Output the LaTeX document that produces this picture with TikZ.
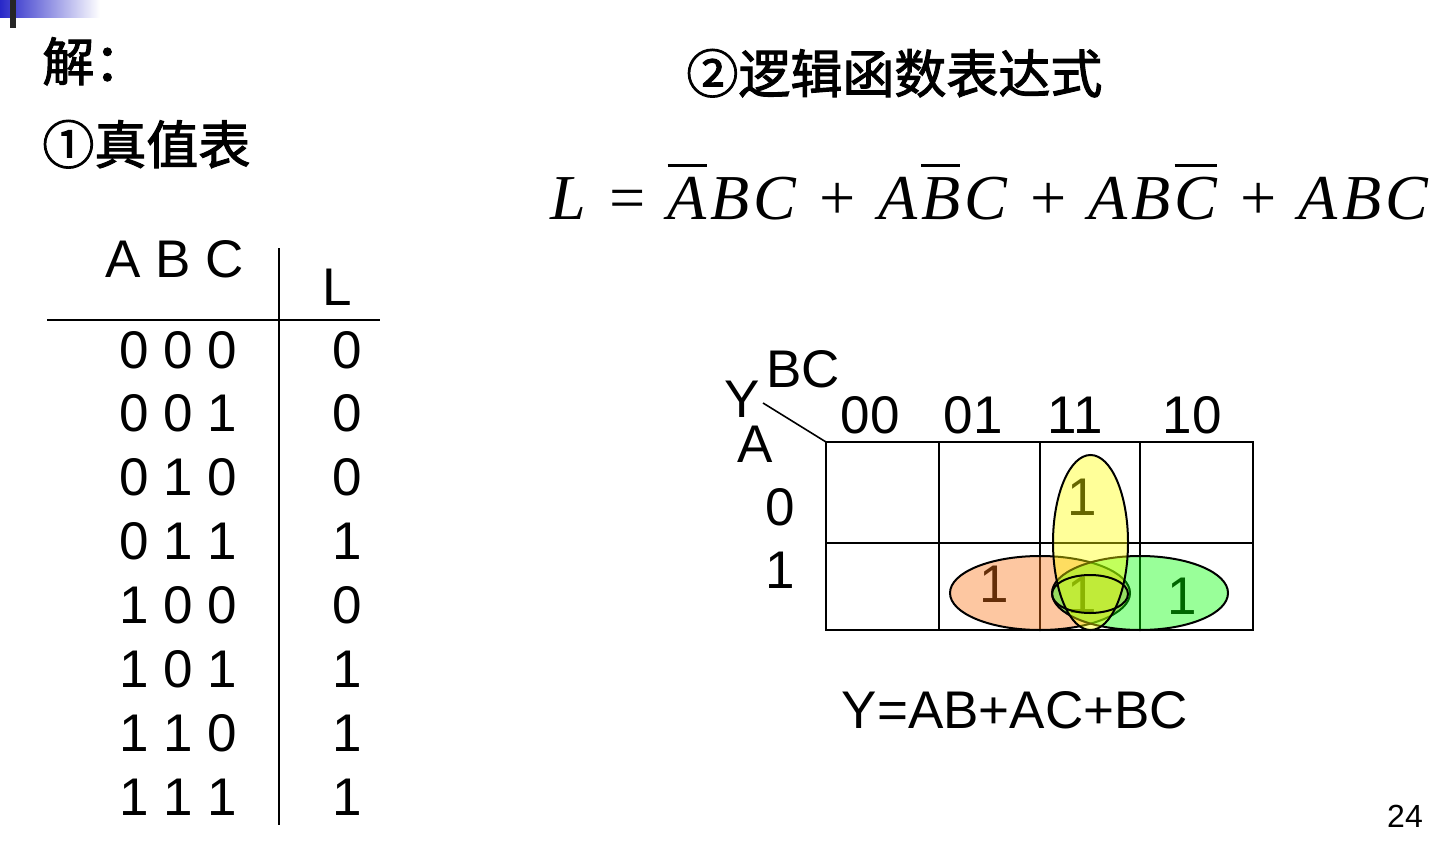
\documentclass[tikz,border=0pt]{standalone}
\usepackage{fontspec}
\setmainfont{Liberation Sans}
\newfontfamily\cjk[BoldFont={Noto Sans CJK SC}, BoldFeatures={FakeBold=2}]{Noto Sans CJK SC}
\newfontfamily\tms{Liberation Serif}
\usetikzlibrary{positioning,calc}
% overline over one letter
\newcommand{\ovl}[1]{\leavevmode\setbox0\hbox{#1}\rlap{\rule[0.83em]{\wd0}{1.5pt}}\box0}
% gap between letters and around signs
\newcommand{\letgap}{\hspace{2pt}}
\newcommand{\opgap}{\hspace{0.3em}}
\tikzset{
  %Define style for plain text
  sans/.style={inner sep=0pt, anchor=base, font=\fontsize{26.5}{30}\selectfont},
  %Define style for chinese titles
  hanzi/.style={inner sep=0pt, anchor=base west, font=\cjk\bfseries\fontsize{26}{30}\selectfont},
  % Define style for the loops
  quan/.style={draw=black, line width=1pt, fill opacity=0.4},
  % Define line style
  kline/.style={line width=1pt}
}
\begin{document}
\begin{tikzpicture}[x=0.5pt,y=-0.5pt]
  \useasboundingbox (0,0) rectangle (1449,850);
  % title bar
  \shade[left color={rgb,255:red,40;green,40;blue,200}, right color=white] (0,0) rectangle (100,18);
  \fill[black!85] (10,0) rectangle (16,28);
  % titles
  \node[hanzi] (jie) at (42,81) {解：};
  \node[hanzi] (zhenzhi) at (42,164) {①真值表};
  \node[hanzi] (luoji) at (686,93) {②逻辑函数表达式};
  % truth table
  \node[sans] (hdr) at (175,278) {A B C};
  \node[sans] (hdrL) at (337,305) {L};
  \coordinate (hl) at (47,320);
  \coordinate (hr) at (380,320);
  \coordinate (vt) at (279,248);
  \coordinate (vb) at (279,825);
  \draw[kline] (hl) -- (hr);
  \draw[kline] (vt) -- (vb);
  \foreach \abc/\val [count=\i from 0] in {0 0 0/0,0 0 1/0,0 1 0/0,0 1 1/1,1 0 0/0,1 0 1/1,1 1 0/1,1 1 1/1}{
    \node[sans] (in\i) at (178,368+63.86*\i) {\abc};
    \node[sans] (out\i) at (347,368+63.86*\i) {\val};
  }
  % expression
  \node[inner sep=0pt, anchor=base west, font=\tms\itshape\fontsize{32}{36}\selectfont] (expr) at (550,220)
    {L\opgap=\opgap\ovl{A}\letgap B\letgap C\opgap+\opgap A\letgap\ovl{B}\letgap C\opgap+\opgap A\letgap B\letgap\ovl{C}\opgap+\opgap A\letgap B\letgap C};
  % karnaugh map
  \coordinate (k00) at (826,442);
  \coordinate (k11) at (1253,630);
  \coordinate (dg) at (763,403);
  \draw[kline] (k00) rectangle (k11);
  \draw[kline] (826,543) -- (1253,543);
  \foreach \cx in {939,1040,1140}
    \draw[kline] (\cx,442) -- (\cx,630);
  \draw[line width=0.8pt] (dg) -- (k00);
  \node[sans] (bc) at (803,387) {BC};
  \node[sans] (y) at (742,417) {Y};
  \node[sans] (a) at (755,462) {A};
  \node[sans] (c00) at (870,433) {00};
  \node[sans] (c01) at (973,433) {01};
  \node[sans] (c11) at (1075,433) {11};
  \node[sans] (c10) at (1192,433) {10};
  \node[sans] (r0) at (780,525) {0};
  \node[sans] (r1) at (780,588) {1};
  \node[sans] (m011) at (1082,515) {1};
  \node[sans] (m101) at (994,602) {1};
  \node[sans] (m111) at (1082,613) {1};
  \node[sans] (m110) at (1182,614) {1};
  % loops
  \draw[quan, fill={rgb,255:red,250;green,115;blue,20}] (1040,593) ellipse [x radius=90, y radius=37];
  \draw[quan, fill={rgb,255:red,0;green,255;blue,0}] (1140,593) ellipse [x radius=88, y radius=37];
  \draw[quan, fill={rgb,255:red,255;green,255;blue,0}] (1090.5,542.5) ellipse [x radius=37.5, y radius=87.5];
  \draw[line width=1pt] (1090,594) ellipse [x radius=38, y radius=19];
  % result
  \node[sans] (res) at (1015,728) {Y=AB+AC+BC};
  % page number
  \node[inner sep=0pt, anchor=base, font=\fontsize{16}{18}\selectfont] (page) at (1405,827) {24};
\end{tikzpicture}
\end{document}
